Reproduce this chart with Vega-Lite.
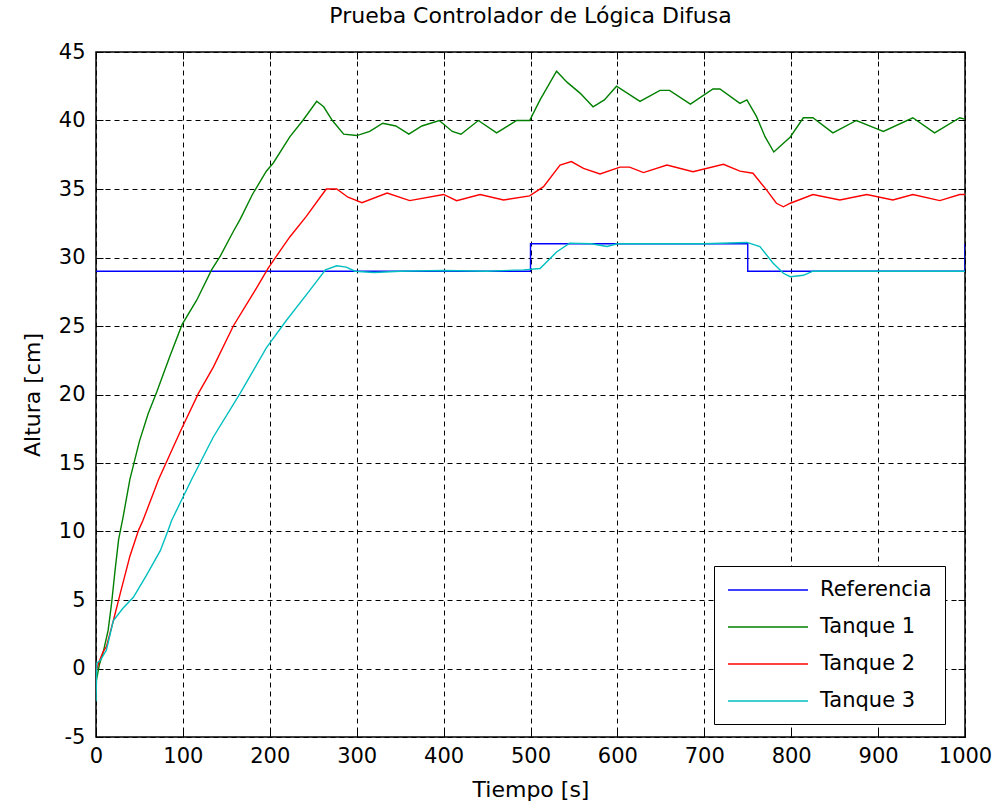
{
  "$schema": "https://vega.github.io/schema/vega-lite/v6.json",
  "width": 869,
  "height": 685,
  "autosize": "none",
  "padding": {"left": 96, "top": 52, "right": 27, "bottom": 72},
  "background": "white",
  "title": {"text": "Prueba Controlador de Lógica Difusa", "font": "DejaVu Sans", "fontSize": 22, "fontWeight": "normal", "color": "black", "offset": 13, "anchor": "middle"},
  "config": {
    "view": {"stroke": "black", "strokeWidth": 1.5},
    "axis": {"labelFont": "DejaVu Sans", "labelFontSize": 21, "labelColor": "black", "titleFont": "DejaVu Sans", "titleFontSize": 22, "titleFontWeight": "normal", "titleColor": "black", "domainColor": "black", "tickColor": "black", "gridColor": "black", "gridOpacity": 1, "gridDash": [5, 4], "gridWidth": 1, "labelFlush": false, "labelOverlap": false, "labelExpr": "datum.value + ''"},
    "legend": {"labelFont": "DejaVu Sans", "labelFontSize": 21, "labelColor": "black"}
  },
  "data": {"values": [
    {"s": "Referencia", "t": 0, "v": 29}, {"s": "Referencia", "t": 500, "v": 29}, {"s": "Referencia", "t": 500, "v": 31}, {"s": "Referencia", "t": 750, "v": 31}, {"s": "Referencia", "t": 750, "v": 29}, {"s": "Referencia", "t": 1000, "v": 29}, {"s": "Referencia", "t": 1000, "v": 31},
    {"s": "Tanque 1", "t": 0, "v": -1.0}, {"s": "Tanque 1", "t": 4, "v": 0.3}, {"s": "Tanque 1", "t": 8, "v": 1.1}, {"s": "Tanque 1", "t": 14, "v": 2.8}, {"s": "Tanque 1", "t": 18, "v": 4.8}, {"s": "Tanque 1", "t": 22, "v": 7.2}, {"s": "Tanque 1", "t": 26, "v": 9.4}, {"s": "Tanque 1", "t": 31, "v": 11.0}, {"s": "Tanque 1", "t": 39, "v": 13.8}, {"s": "Tanque 1", "t": 50, "v": 16.6}, {"s": "Tanque 1", "t": 60, "v": 18.6}, {"s": "Tanque 1", "t": 70, "v": 20.2}, {"s": "Tanque 1", "t": 85, "v": 22.8}, {"s": "Tanque 1", "t": 99, "v": 25.1}, {"s": "Tanque 1", "t": 116, "v": 26.9}, {"s": "Tanque 1", "t": 133, "v": 29.1}, {"s": "Tanque 1", "t": 143, "v": 30.1}, {"s": "Tanque 1", "t": 158, "v": 31.9}, {"s": "Tanque 1", "t": 166, "v": 32.8}, {"s": "Tanque 1", "t": 180, "v": 34.6}, {"s": "Tanque 1", "t": 196, "v": 36.3}, {"s": "Tanque 1", "t": 204, "v": 36.9}, {"s": "Tanque 1", "t": 223, "v": 38.8}, {"s": "Tanque 1", "t": 238, "v": 40.0}, {"s": "Tanque 1", "t": 254, "v": 41.4}, {"s": "Tanque 1", "t": 262, "v": 41.0}, {"s": "Tanque 1", "t": 272, "v": 40.0}, {"s": "Tanque 1", "t": 285, "v": 39.0}, {"s": "Tanque 1", "t": 300, "v": 38.9}, {"s": "Tanque 1", "t": 315, "v": 39.2}, {"s": "Tanque 1", "t": 330, "v": 39.8}, {"s": "Tanque 1", "t": 345, "v": 39.6}, {"s": "Tanque 1", "t": 360, "v": 39.0}, {"s": "Tanque 1", "t": 375, "v": 39.6}, {"s": "Tanque 1", "t": 395, "v": 40.0}, {"s": "Tanque 1", "t": 410, "v": 39.2}, {"s": "Tanque 1", "t": 420, "v": 39.0}, {"s": "Tanque 1", "t": 440, "v": 40.0}, {"s": "Tanque 1", "t": 461, "v": 39.1}, {"s": "Tanque 1", "t": 484, "v": 40.0}, {"s": "Tanque 1", "t": 499, "v": 40.0}, {"s": "Tanque 1", "t": 511, "v": 41.5}, {"s": "Tanque 1", "t": 530, "v": 43.6}, {"s": "Tanque 1", "t": 542, "v": 42.8}, {"s": "Tanque 1", "t": 557, "v": 42.0}, {"s": "Tanque 1", "t": 572, "v": 41.0}, {"s": "Tanque 1", "t": 585, "v": 41.5}, {"s": "Tanque 1", "t": 599, "v": 42.5}, {"s": "Tanque 1", "t": 626, "v": 41.4}, {"s": "Tanque 1", "t": 649, "v": 42.2}, {"s": "Tanque 1", "t": 660, "v": 42.2}, {"s": "Tanque 1", "t": 684, "v": 41.2}, {"s": "Tanque 1", "t": 710, "v": 42.3}, {"s": "Tanque 1", "t": 718, "v": 42.3}, {"s": "Tanque 1", "t": 741, "v": 41.25}, {"s": "Tanque 1", "t": 749, "v": 41.5}, {"s": "Tanque 1", "t": 760, "v": 40.3}, {"s": "Tanque 1", "t": 770, "v": 38.8}, {"s": "Tanque 1", "t": 780, "v": 37.7}, {"s": "Tanque 1", "t": 799, "v": 38.8}, {"s": "Tanque 1", "t": 814, "v": 40.2}, {"s": "Tanque 1", "t": 825, "v": 40.2}, {"s": "Tanque 1", "t": 848, "v": 39.1}, {"s": "Tanque 1", "t": 875, "v": 40.0}, {"s": "Tanque 1", "t": 898, "v": 39.4}, {"s": "Tanque 1", "t": 906, "v": 39.2}, {"s": "Tanque 1", "t": 940, "v": 40.2}, {"s": "Tanque 1", "t": 965, "v": 39.1}, {"s": "Tanque 1", "t": 994, "v": 40.2}, {"s": "Tanque 1", "t": 1000, "v": 40.1},
    {"s": "Tanque 2", "t": 0, "v": -0.3}, {"s": "Tanque 2", "t": 3, "v": 0.4}, {"s": "Tanque 2", "t": 8, "v": 1.2}, {"s": "Tanque 2", "t": 12, "v": 1.6}, {"s": "Tanque 2", "t": 20, "v": 3.5}, {"s": "Tanque 2", "t": 28, "v": 5.5}, {"s": "Tanque 2", "t": 39, "v": 8.2}, {"s": "Tanque 2", "t": 49, "v": 10.1}, {"s": "Tanque 2", "t": 54, "v": 10.8}, {"s": "Tanque 2", "t": 72, "v": 13.8}, {"s": "Tanque 2", "t": 97, "v": 17.3}, {"s": "Tanque 2", "t": 118, "v": 20.1}, {"s": "Tanque 2", "t": 135, "v": 22.0}, {"s": "Tanque 2", "t": 158, "v": 25.0}, {"s": "Tanque 2", "t": 185, "v": 27.8}, {"s": "Tanque 2", "t": 198, "v": 29.2}, {"s": "Tanque 2", "t": 212, "v": 30.5}, {"s": "Tanque 2", "t": 223, "v": 31.5}, {"s": "Tanque 2", "t": 242, "v": 33.0}, {"s": "Tanque 2", "t": 258, "v": 34.4}, {"s": "Tanque 2", "t": 265, "v": 35.0}, {"s": "Tanque 2", "t": 277, "v": 35.0}, {"s": "Tanque 2", "t": 290, "v": 34.4}, {"s": "Tanque 2", "t": 298, "v": 34.2}, {"s": "Tanque 2", "t": 306, "v": 34.0}, {"s": "Tanque 2", "t": 335, "v": 34.7}, {"s": "Tanque 2", "t": 361, "v": 34.15}, {"s": "Tanque 2", "t": 400, "v": 34.6}, {"s": "Tanque 2", "t": 415, "v": 34.15}, {"s": "Tanque 2", "t": 442, "v": 34.6}, {"s": "Tanque 2", "t": 469, "v": 34.2}, {"s": "Tanque 2", "t": 499, "v": 34.5}, {"s": "Tanque 2", "t": 515, "v": 35.17}, {"s": "Tanque 2", "t": 534, "v": 36.75}, {"s": "Tanque 2", "t": 547, "v": 37.0}, {"s": "Tanque 2", "t": 561, "v": 36.5}, {"s": "Tanque 2", "t": 580, "v": 36.1}, {"s": "Tanque 2", "t": 603, "v": 36.6}, {"s": "Tanque 2", "t": 614, "v": 36.6}, {"s": "Tanque 2", "t": 630, "v": 36.2}, {"s": "Tanque 2", "t": 657, "v": 36.75}, {"s": "Tanque 2", "t": 687, "v": 36.26}, {"s": "Tanque 2", "t": 722, "v": 36.8}, {"s": "Tanque 2", "t": 741, "v": 36.3}, {"s": "Tanque 2", "t": 756, "v": 36.15}, {"s": "Tanque 2", "t": 772, "v": 34.9}, {"s": "Tanque 2", "t": 783, "v": 33.96}, {"s": "Tanque 2", "t": 791, "v": 33.7}, {"s": "Tanque 2", "t": 799, "v": 33.96}, {"s": "Tanque 2", "t": 825, "v": 34.6}, {"s": "Tanque 2", "t": 856, "v": 34.2}, {"s": "Tanque 2", "t": 887, "v": 34.6}, {"s": "Tanque 2", "t": 917, "v": 34.2}, {"s": "Tanque 2", "t": 940, "v": 34.6}, {"s": "Tanque 2", "t": 971, "v": 34.15}, {"s": "Tanque 2", "t": 994, "v": 34.6}, {"s": "Tanque 2", "t": 1000, "v": 34.6},
    {"s": "Tanque 3", "t": 0, "v": -2.4}, {"s": "Tanque 3", "t": 1, "v": 0.4}, {"s": "Tanque 3", "t": 5, "v": 0.6}, {"s": "Tanque 3", "t": 12, "v": 1.35}, {"s": "Tanque 3", "t": 20, "v": 3.5}, {"s": "Tanque 3", "t": 31, "v": 4.4}, {"s": "Tanque 3", "t": 43, "v": 5.2}, {"s": "Tanque 3", "t": 58, "v": 6.8}, {"s": "Tanque 3", "t": 74, "v": 8.6}, {"s": "Tanque 3", "t": 83, "v": 10.1}, {"s": "Tanque 3", "t": 87, "v": 10.8}, {"s": "Tanque 3", "t": 110, "v": 13.8}, {"s": "Tanque 3", "t": 135, "v": 16.9}, {"s": "Tanque 3", "t": 166, "v": 20.1}, {"s": "Tanque 3", "t": 196, "v": 23.4}, {"s": "Tanque 3", "t": 219, "v": 25.4}, {"s": "Tanque 3", "t": 246, "v": 27.6}, {"s": "Tanque 3", "t": 264, "v": 29.1}, {"s": "Tanque 3", "t": 277, "v": 29.4}, {"s": "Tanque 3", "t": 288, "v": 29.3}, {"s": "Tanque 3", "t": 298, "v": 29.0}, {"s": "Tanque 3", "t": 320, "v": 28.9}, {"s": "Tanque 3", "t": 350, "v": 29.0}, {"s": "Tanque 3", "t": 400, "v": 29.05}, {"s": "Tanque 3", "t": 450, "v": 29.0}, {"s": "Tanque 3", "t": 492, "v": 29.1}, {"s": "Tanque 3", "t": 511, "v": 29.2}, {"s": "Tanque 3", "t": 530, "v": 30.4}, {"s": "Tanque 3", "t": 545, "v": 31.05}, {"s": "Tanque 3", "t": 570, "v": 31.0}, {"s": "Tanque 3", "t": 588, "v": 30.8}, {"s": "Tanque 3", "t": 600, "v": 31.0}, {"s": "Tanque 3", "t": 650, "v": 31.0}, {"s": "Tanque 3", "t": 700, "v": 31.0}, {"s": "Tanque 3", "t": 749, "v": 31.1}, {"s": "Tanque 3", "t": 764, "v": 30.8}, {"s": "Tanque 3", "t": 779, "v": 29.6}, {"s": "Tanque 3", "t": 791, "v": 28.85}, {"s": "Tanque 3", "t": 799, "v": 28.6}, {"s": "Tanque 3", "t": 814, "v": 28.7}, {"s": "Tanque 3", "t": 825, "v": 29.0}, {"s": "Tanque 3", "t": 850, "v": 29.0}, {"s": "Tanque 3", "t": 900, "v": 29.0}, {"s": "Tanque 3", "t": 950, "v": 29.0}, {"s": "Tanque 3", "t": 1000, "v": 29.0}
  ]},
  "layer": [
    {
      "transform": [{"filter": "datum.s === 'Referencia'"}],
      "mark": {"type": "line", "strokeWidth": 1.4, "clip": true},
      "encoding": {
        "x": {"field": "t", "type": "quantitative", "scale": {"domain": [0, 1000], "nice": false, "zero": false}, "axis": {"orient": "bottom", "title": "Tiempo [s]", "values": [0, 100, 200, 300, 400, 500, 600, 700, 800, 900, 1000], "grid": true, "tickSize": -7, "labelPadding": 15, "titlePadding": 13, "domain": false}},
        "y": {"field": "v", "type": "quantitative", "scale": {"domain": [-5, 45], "nice": false, "zero": false}, "axis": {"orient": "left", "title": "Altura [cm]", "values": [-5, 0, 5, 10, 15, 20, 25, 30, 35, 40, 45], "grid": true, "tickSize": -7, "labelPadding": 18, "titlePadding": 14, "domain": false}},
        "color": {"field": "s", "type": "nominal", "scale": {"domain": ["Referencia", "Tanque 1", "Tanque 2", "Tanque 3"], "range": ["#0000ff", "#008000", "#ff0000", "#00bfbf"]}, "legend": {"title": null, "orient": "none", "legendX": 618, "legendY": 514, "symbolType": "M-1,0H7", "symbolSize": 400, "symbolStrokeWidth": 1.5, "labelOffset": 71, "rowPadding": 16, "padding": 13, "strokeColor": "black", "fillColor": "white", "cornerRadius": 0}},
        "order": {"value": null}
      }
    },
    {
      "transform": [{"filter": "datum.s !== 'Referencia'"}],
      "mark": {"type": "line", "strokeWidth": 1.4, "clip": true},
      "encoding": {
        "x": {"field": "t", "type": "quantitative", "axis": {"orient": "top", "title": null, "values": [0, 100, 200, 300, 400, 500, 600, 700, 800, 900, 1000], "labels": false, "grid": false, "tickSize": -7, "domain": false}},
        "y": {"field": "v", "type": "quantitative", "axis": {"orient": "right", "title": null, "values": [-5, 0, 5, 10, 15, 20, 25, 30, 35, 40, 45], "labels": false, "grid": false, "tickSize": -7, "domain": false}},
        "color": {"field": "s", "type": "nominal"},
        "order": {"value": null}
      }
    }
  ],
  "resolve": {"axis": {"x": "independent", "y": "independent"}}
}
